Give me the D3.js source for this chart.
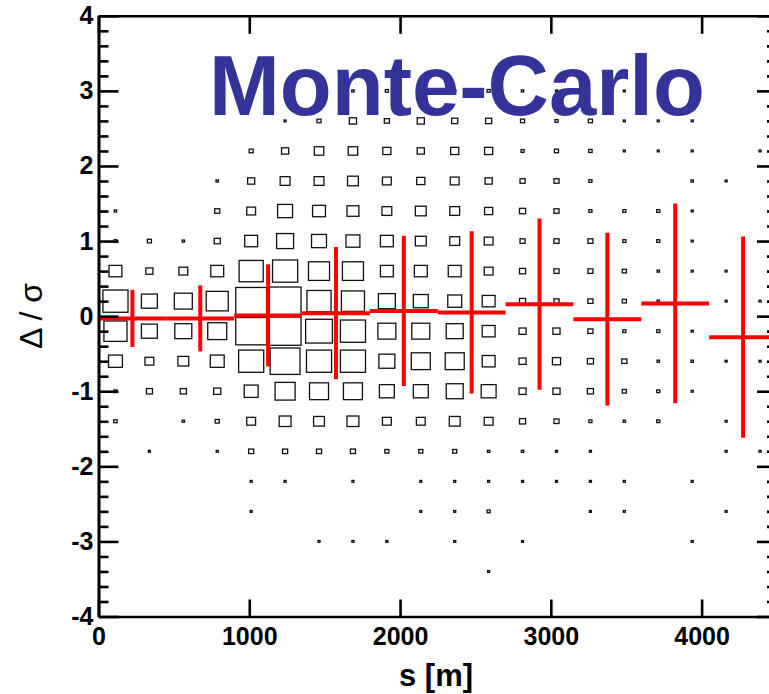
<!DOCTYPE html>
<html>
<head>
<meta charset="utf-8">
<script src="https://cdn.jsdelivr.net/npm/d3@7"></script>
<style>
  html, body { margin: 0; padding: 0; background: #fff; }
  svg { display: block; }
  text { font-family: "Liberation Sans", Arial, Helvetica, sans-serif; }
</style>
</head>
<body>
<svg id="chart" width="769" height="694"></svg>
<script>
// Bin edges of the 2D residual histogram: path length s [m] and normalised residual Δ/σ
const sEdges = [0, 225, 450, 675, 900, 1125, 1350, 1575, 1800, 2025, 2250,
                2475, 2700, 2925, 3150, 3375, 3600, 3825, 4050, 4275, 4500];
const dEdges = [-4, -3.6, -3.2, -2.8, -2.4, -2.0, -1.6, -1.2, -0.8, -0.4, 0,
                0.4, 0.8, 1.2, 1.6, 2.0, 2.4, 2.8, 3.2, 3.6, 4];

// Cell contents, one array per s bin, ordered from Δ/σ = -4 upwards
const counts = [
  [0,0,0,0,0,0,10,9,41,68,74,38,9,7,0,0,0,0,0,0],
  [0,0,0,0,0,6,0,18,26,47,47,21,12,0,0,0,0,0,0,0],
  [0,0,0,0,0,0,7,18,32,50,53,26,7,0,0,0,0,0,0,0],
  [0,0,0,0,0,6,12,21,41,56,65,38,18,15,7,0,0,0,0,0],
  [0,0,0,6,6,15,26,41,74,91,91,71,38,26,21,12,0,0,0,0],
  [0,0,0,0,6,15,35,59,88,94,94,74,50,44,29,21,6,0,0,0],
  [0,0,6,0,0,15,32,56,74,79,71,62,44,38,29,28,12,0,0,0],
  [0,0,6,0,6,15,35,56,74,74,68,62,41,35,32,28,21,7,0,0],
  [0,0,6,0,0,12,26,44,47,53,50,38,38,29,26,24,15,9,0,0],
  [0,0,0,6,6,12,26,44,56,53,44,38,32,32,24,21,21,7,0,0],
  [0,0,6,6,6,12,32,50,56,50,41,38,29,29,26,24,18,7,0,0],
  [0,6,0,9,6,7,26,44,38,38,38,26,26,24,21,24,18,9,0,0],
  [0,0,6,0,6,7,18,21,21,21,18,18,15,18,15,9,12,7,0,0],
  [0,0,0,0,6,6,15,21,24,21,15,15,15,15,15,12,9,6,0,0],
  [0,0,0,6,6,6,9,18,18,15,15,15,15,9,9,10,12,0,0,0],
  [0,0,0,6,6,0,7,12,15,9,12,12,9,9,0,6,6,6,0,0],
  [0,0,0,0,0,0,9,9,7,9,7,7,9,9,0,6,6,0,0,0],
  [0,0,6,0,6,0,0,6,7,6,0,6,6,6,7,6,6,0,0,0],
  [0,0,0,6,0,6,6,0,6,0,6,6,0,0,6,0,0,0,0,0],
  [0,0,0,0,0,6,0,0,6,0,6,0,0,0,0,6,0,0,0,0]
];
const countScaleMax = 100;

// Profile: mean of Δ/σ and its spread in wider s bins
const profileEdges = [0, 450, 900, 1350, 1800, 2250, 2700, 3150, 3600, 4050, 4500];
const profileMean = [-0.03, -0.03, 0.01, 0.04, 0.07, 0.05, 0.16, -0.04, 0.17, -0.28];
const profileErr  = [0.38, 0.44, 0.68, 0.88, 1.00, 1.08, 1.14, 1.15, 1.33, 1.34];

// Axis ticks and labels
const sTicks = [0, 1000, 2000, 3000, 4000];
const dTicks = [-4, -3, -2, -1, 0, 1, 2, 3, 4];
const dMinorTicks = [-3.8,-3.6,-3.4,-3.2,-2.8,-2.6,-2.4,-2.2,-1.8,-1.6,-1.4,-1.2,
                     -0.8,-0.6,-0.4,-0.2,0.2,0.4,0.6,0.8,1.2,1.4,1.6,1.8,
                     2.2,2.4,2.6,2.8,3.2,3.4,3.6,3.8];
const xTitle = "s [m]";
const yTitle = "Δ / σ";
const plotLabel = "Monte-Carlo";

const svg = d3.select("#chart");
const x = d3.scaleLinear().domain([0, 4500]).range([98.5, 777]);
const y = d3.scaleLinear().domain([-4, 4]).range([616.5, 15.8]);
const frac = d3.scaleLinear().domain([0, countScaleMax]).range([0, 1]);

// Box cells: side proportional to the cell content
const cells = [];
counts.forEach((col, i) => col.forEach((c, j) => {
  if (c > 0) cells.push({ s0: sEdges[i], s1: sEdges[i + 1], d0: dEdges[j], d1: dEdges[j + 1], c });
}));

svg.append("g").selectAll("rect").data(cells).join("rect")
  .attr("x", d => { const w = (x(d.s1) - x(d.s0)) * frac(d.c); return (x(d.s0) + x(d.s1)) / 2 - w / 2; })
  .attr("y", d => { const h = (y(d.d0) - y(d.d1)) * frac(d.c); return (y(d.d0) + y(d.d1)) / 2 - h / 2; })
  .attr("width", d => (x(d.s1) - x(d.s0)) * frac(d.c))
  .attr("height", d => (y(d.d0) - y(d.d1)) * frac(d.c))
  .attr("fill", "none")
  .attr("stroke", "#111")
  .attr("stroke-width", 1.3);

// Profile crosses
const prof = profileMean.map((m, k) => ({ s0: profileEdges[k], s1: profileEdges[k + 1], m, e: profileErr[k] }));
const pg = svg.append("g").attr("stroke", "#ff0000").attr("stroke-width", 4);
pg.selectAll("line.h").data(prof).join("line").attr("class", "h")
  .attr("x1", d => x(d.s0)).attr("x2", d => x(d.s1))
  .attr("y1", d => y(d.m)).attr("y2", d => y(d.m));
pg.selectAll("line.v").data(prof).join("line").attr("class", "v")
  .attr("x1", d => x((d.s0 + d.s1) / 2)).attr("x2", d => x((d.s0 + d.s1) / 2))
  .attr("y1", d => y(d.m + d.e)).attr("y2", d => y(d.m - d.e));

// Label inside the frame
svg.append("text")
  .attr("x", 209).attr("y", 115)
  .attr("font-size", 85).attr("font-weight", "bold")
  .attr("fill", "#333399")
  .text(plotLabel);

// Axes
const fmt = d => String(d);
function styleAxis(g) {
  g.selectAll("path, line").attr("stroke", "#000").attr("stroke-width", 2.6);
  g.selectAll("text").attr("fill", "#000").attr("font-size", 25).attr("font-weight", "bold")
    .attr("font-family", "'Liberation Sans', Arial, Helvetica, sans-serif");
}

svg.append("g").attr("transform", `translate(${x(0)},0)`)
  .call(d3.axisLeft(y).tickValues(dMinorTicks).tickSize(-10).tickSizeOuter(0).tickFormat(""))
  .call(styleAxis);
svg.append("g").attr("transform", `translate(${x(0)},0)`)
  .call(d3.axisLeft(y).tickValues(dTicks).tickSize(-20).tickSizeOuter(0).tickPadding(5).tickFormat(fmt))
  .call(styleAxis);

svg.append("g").attr("transform", `translate(${x(4500)},0)`)
  .call(d3.axisRight(y).tickValues(dMinorTicks).tickSize(-10).tickSizeOuter(0).tickFormat(""))
  .call(styleAxis);
svg.append("g").attr("transform", `translate(${x(4500)},0)`)
  .call(d3.axisRight(y).tickValues(dTicks).tickSize(-20).tickSizeOuter(0).tickFormat(""))
  .call(styleAxis);

svg.append("g").attr("transform", `translate(0,${y(4)})`)
  .call(d3.axisTop(x).tickValues(sTicks).tickSize(-18).tickSizeOuter(0).tickFormat(""))
  .call(styleAxis);
svg.append("g").attr("transform", `translate(0,${y(-4)})`)
  .call(d3.axisBottom(x).tickValues(sTicks).tickSize(-17).tickSizeOuter(0).tickPadding(11).tickFormat(fmt))
  .call(styleAxis);

// Axis titles
svg.append("text")
  .attr("x", 436).attr("y", 686)
  .attr("text-anchor", "middle")
  .attr("font-size", 31).attr("font-weight", "bold")
  .text(xTitle);

svg.append("text")
  .attr("transform", "translate(42,316) rotate(-90)")
  .attr("text-anchor", "middle")
  .attr("font-size", 32)
  .text(yTitle);
</script>
</body>
</html>
